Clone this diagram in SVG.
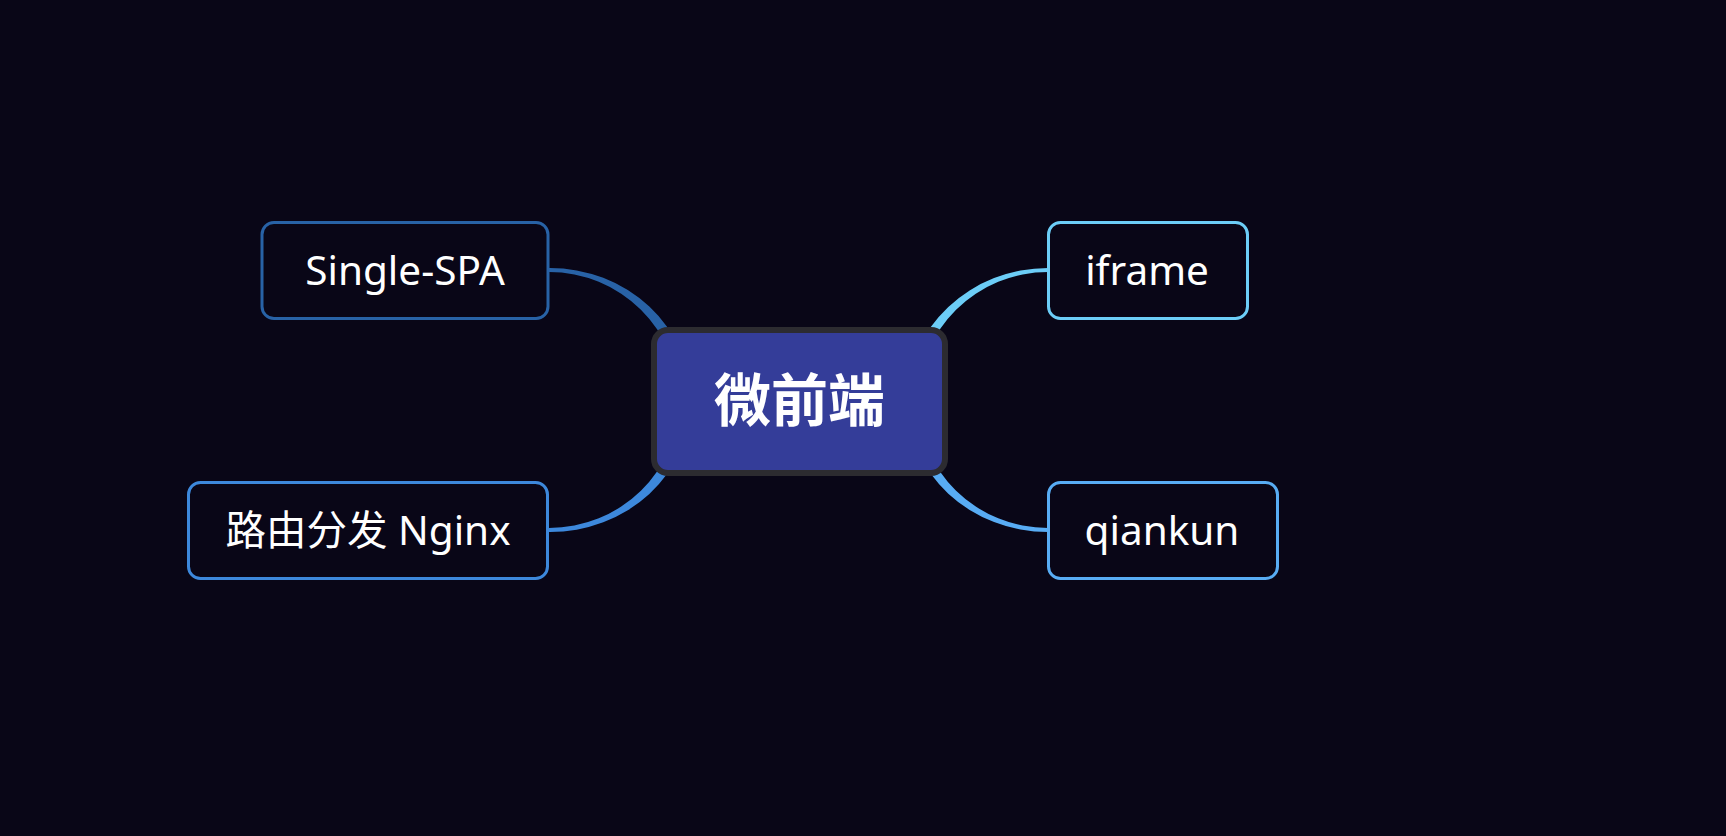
<svg xmlns="http://www.w3.org/2000/svg" width="1726" height="836" viewBox="0 0 1726 836">
<style>
.bg{fill:#090617}
.child rect{fill:#090617;stroke-width:3}
.child text{font-family:"Noto Sans","Noto Sans CJK SC",sans-serif;font-size:40.5px;fill:#ffffff;text-anchor:middle}
.root rect{fill:#343d99;stroke:#2c2b30;stroke-width:6}
.root text{font-family:"Noto Sans CJK SC","Noto Sans",sans-serif;font-size:57px;font-weight:bold;fill:#ffffff;text-anchor:middle}
</style>
<rect class="bg" x="0" y="0" width="1726" height="836"/>
<g id="connectors">
<path d="M549 268 A141 133 0 0 1 691 401 L679 401 A130 129 0 0 0 549 272 Z" fill="#2862a6"/>
<path d="M549 532 A141 131 0 0 0 691 401 L679 401 A130 127 0 0 1 549 528 Z" fill="#3d88dc"/>
<path d="M1048 268 A141 133 0 0 0 907 401 L918 401 A130 129 0 0 1 1048 272 Z" fill="#6ccdf7"/>
<path d="M1048 532 A141 131 0 0 1 907 401 L918 401 A130 127 0 0 0 1048 528 Z" fill="#58acf4"/>
</g>
<g id="root" class="root">
<rect x="654" y="330" width="291" height="143" rx="14"/>
<text x="799.5" y="421">微前端</text>
</g>
<g id="single-spa" class="child">
<rect x="262" y="222.5" width="286" height="96" rx="12" stroke="#2862a6"/>
<text x="405" y="284.5">Single-SPA</text>
</g>
<g id="nginx" class="child">
<rect x="188.5" y="482.5" width="359" height="96" rx="12" stroke="#3d88dc"/>
<text x="368" y="544.5">路由分发 Nginx</text>
</g>
<g id="iframe" class="child">
<rect x="1048.5" y="222.5" width="199" height="96" rx="12" stroke="#6ccdf7"/>
<text x="1147" y="284.5">iframe</text>
</g>
<g id="qiankun" class="child">
<rect x="1048.5" y="482.5" width="229" height="96" rx="12" stroke="#58acf4"/>
<text x="1162" y="544.5">qiankun</text>
</g>
</svg>
